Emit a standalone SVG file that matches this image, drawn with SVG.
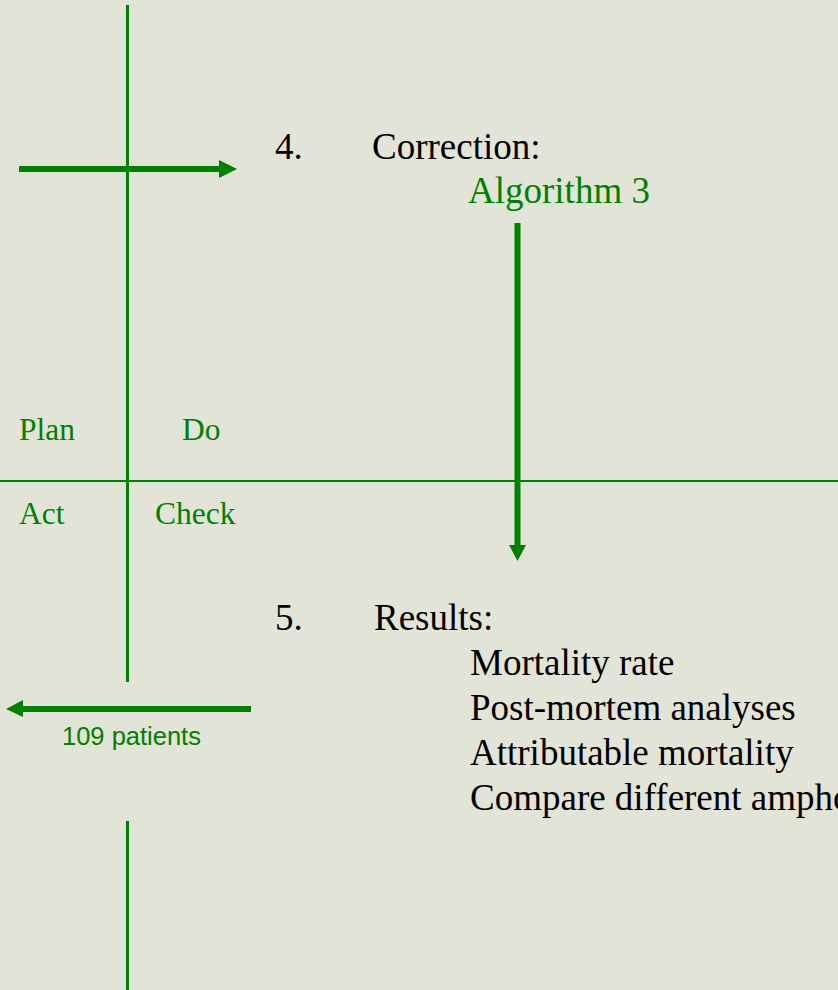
<svg xmlns="http://www.w3.org/2000/svg" width="838" height="990" viewBox="0 0 838 990">
  <style>
    .bg { fill: #E3E4D8; }
    .grid { stroke: #008000; fill: none; }
    .shaft { stroke: #008000; stroke-width: 6; fill: none; }
    .head { fill: #008000; }
    .serif { font-family: "Liberation Serif", "Times New Roman", serif; }
    .big { font-size: 37px; }
    .quad { font-size: 31.5px; fill: #008000; }
    .black { fill: #000000; }
    .green { fill: #008000; }
    .sans { font-family: "Liberation Sans", Arial, sans-serif; font-size: 25.5px; fill: #008000; }
  </style>
  <rect class="bg" x="0" y="0" width="838" height="990"/>

  <!-- PDCA quadrant axes -->
  <g id="axes">
    <line class="grid" x1="127.5" y1="5" x2="127.5" y2="682" stroke-width="3"/>
    <line class="grid" x1="127.5" y1="821" x2="127.5" y2="990" stroke-width="3"/>
    <line class="grid" x1="0" y1="481" x2="838" y2="481" stroke-width="2"/>
  </g>

  <g id="quadrant-labels" class="serif">
    <text id="plan" class="quad" x="19" y="440">Plan</text>
    <text id="do" class="quad" x="182" y="440">Do</text>
    <text id="act" class="quad" x="19" y="524">Act</text>
    <text id="check" class="quad" x="155" y="524">Check</text>
  </g>

  <!-- connectors -->
  <g id="connectors">
    <line class="shaft" x1="19" y1="169" x2="221" y2="169"/>
    <polygon class="head" points="219,160 237,169 219,178"/>
    <line class="shaft" x1="517.5" y1="223" x2="517.5" y2="547"/>
    <polygon class="head" points="509,545 526,545 517.5,561"/>
    <line class="shaft" x1="251" y1="709" x2="21" y2="709"/>
    <polygon class="head" points="23,700 6,709 23,717"/>
  </g>

  <g id="step-correction" class="serif big">
    <text class="black" x="275" y="159">4.</text>
    <text class="black" x="372" y="159">Correction:</text>
    <text class="green" x="468" y="203">Algorithm 3</text>
  </g>

  <g id="step-results" class="serif big">
    <text class="black" x="275" y="630">5.</text>
    <text class="black" x="374" y="630">Results:</text>
    <text class="black" x="470" y="675">Mortality rate</text>
    <text class="black" x="470" y="720">Post-mortem analyses</text>
    <text class="black" x="470" y="765">Attributable mortality</text>
    <text class="black" x="470" y="810">Compare different amphotericin B formulations</text>
  </g>

  <g id="patients-label">
    <text class="sans" x="62" y="745">109 patients</text>
  </g>
</svg>
